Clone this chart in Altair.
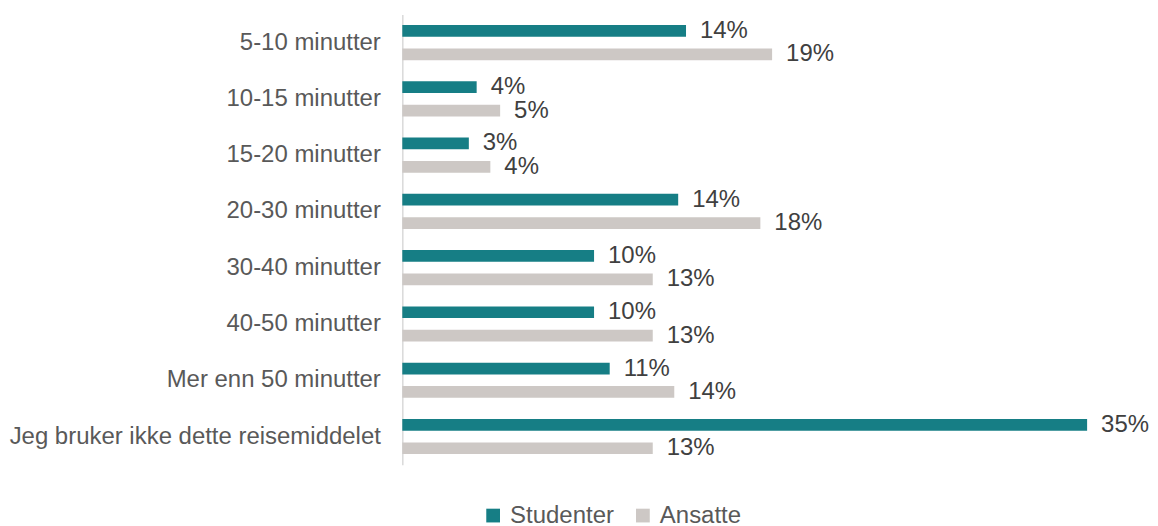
import altair as alt
import pandas as pd

categories = ["5-10 minutter", "10-15 minutter", "15-20 minutter", "20-30 minutter",
              "30-40 minutter", "40-50 minutter", "Mer enn 50 minutter",
              "Jeg bruker ikke dette reisemiddelet"]
series = ["Studenter", "Ansatte"]
studenter = [14.5, 3.8, 3.4, 14.1, 9.8, 9.8, 10.6, 35.0]
ansatte = [18.9, 5.0, 4.5, 18.3, 12.8, 12.8, 13.9, 12.8]
studenter_labels = ["14%", "4%", "3%", "14%", "10%", "10%", "11%", "35%"]
ansatte_labels = ["19%", "5%", "4%", "18%", "13%", "13%", "14%", "13%"]
colors = ["#167E85", "#CDC8C5"]

rows = []
for c, v, l in zip(categories, studenter, studenter_labels):
    rows.append({"kategori": c, "gruppe": "Studenter", "verdi": v, "etikett": l})
for c, v, l in zip(categories, ansatte, ansatte_labels):
    rows.append({"kategori": c, "gruppe": "Ansatte", "verdi": v, "etikett": l})
df = pd.DataFrame(rows)

FONT = "Liberation Sans"
FS = 24

y = alt.Y("kategori:N", sort=categories, title=None,
          scale=alt.Scale(paddingInner=0.167, paddingOuter=0.083),
          axis=alt.Axis(ticks=False, domainColor="#D9D9D9", domainWidth=1.5,
                        labelFont=FONT, labelFontSize=FS, labelColor="#595959",
                        labelPadding=22, labelLimit=600))
yoff = alt.YOffset("gruppe:N", sort=series,
                   scale=alt.Scale(paddingInner=0.5, paddingOuter=0.25))
x = alt.X("verdi:Q", title=None, axis=None,
          scale=alt.Scale(domain=[0, 35], nice=False, zero=True))

bars = alt.Chart(df).mark_bar().encode(
    x=x, y=y, yOffset=yoff,
    color=alt.Color("gruppe:N", sort=series,
                    scale=alt.Scale(domain=series, range=colors),
                    legend=alt.Legend(title=None, orient="none", direction="horizontal",
                                      legendX=79, legendY=490,
                                      symbolType="square", symbolSize=190,
                                      symbolStrokeWidth=0, labelFont=FONT,
                                      labelFontSize=FS, labelColor="#595959",
                                      labelOffset=5, columnPadding=16)),
)

labels = alt.Chart(df).mark_text(align="left", baseline="middle", dx=14,
                                 font=FONT, fontSize=FS, color="#404040").encode(
    x=x, y=alt.Y("kategori:N", sort=categories), yOffset=yoff, text="etikett:N"
)

chart = (bars + labels).properties(
    width=686, height=451,
    padding={"top": 6, "left": 0, "right": 0, "bottom": 0}
).configure_view(stroke=None).configure_axis(grid=False)

chart.save("out.html", embed_options={"renderer": "svg", "actions": False})
